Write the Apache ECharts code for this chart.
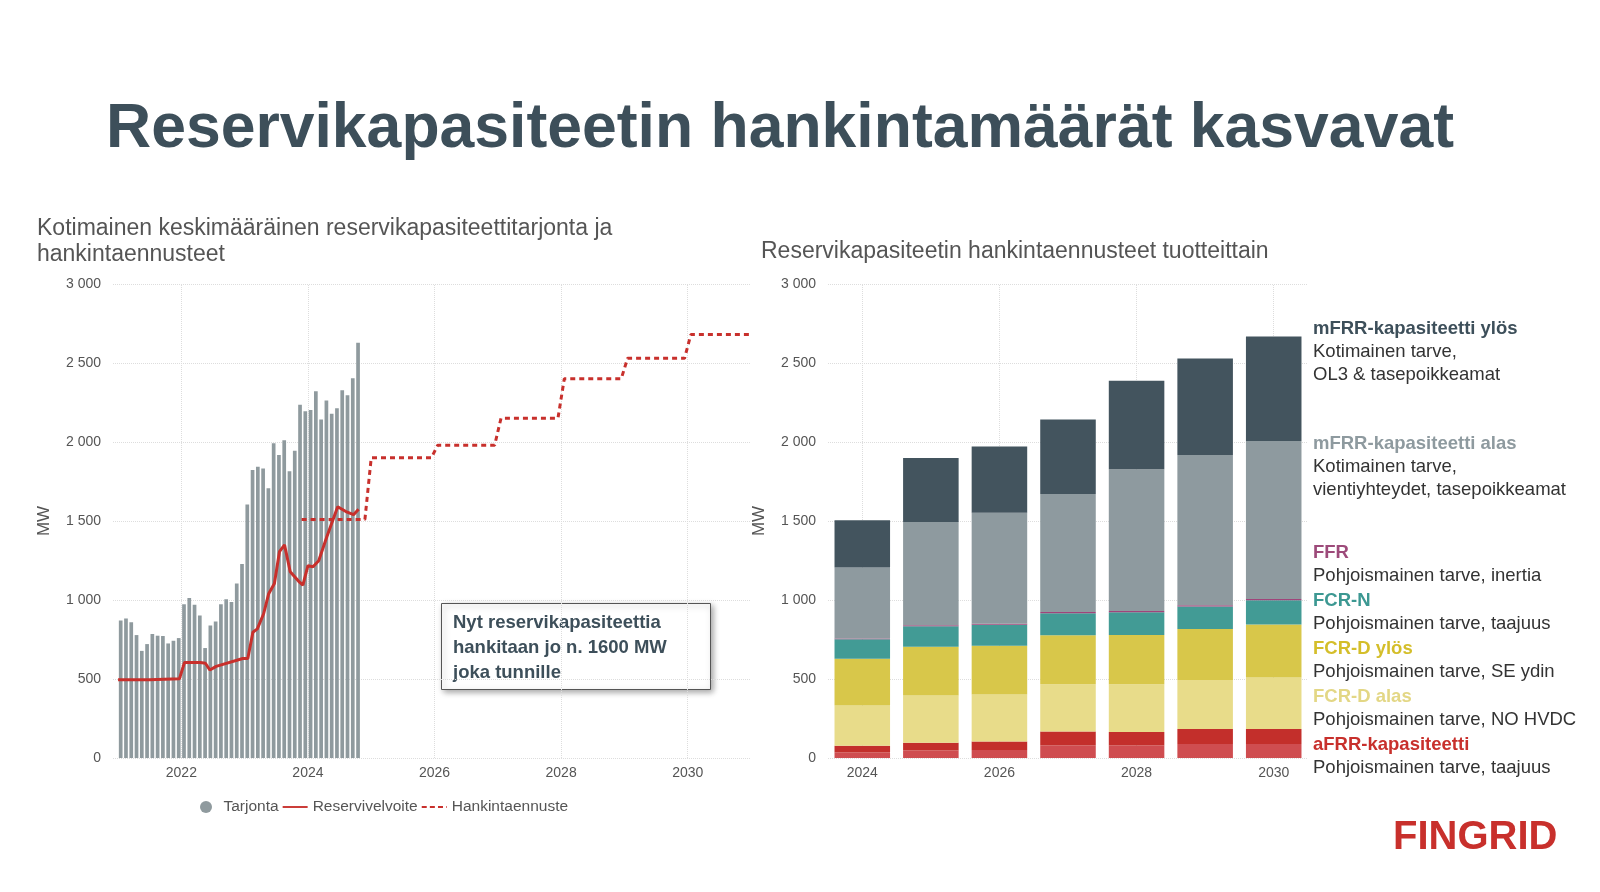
<!DOCTYPE html>
<html><head><meta charset="utf-8">
<script src="https://cdn.jsdelivr.net/npm/echarts@6/dist/echarts.min.js"></script>
<style>html,body{margin:0;padding:0;background:#fff}#c{width:1600px;height:892px}</style>
</head><body><div id="c"></div>
<script>
// Left chart: monthly supply (Tarjonta), Jan 2021 .. Oct 2024
const tarjonta = [870,883,859,778,678,721,785,774,772,725,742,759,
  973,1013,970,902,696,838,864,973,1005,988,1104,1228,
  1604,1822,1843,1832,1707,1992,1917,2011,1815,1945,2236,2194,
  2202,2321,2143,2262,2179,2213,2328,2296,2403,2628];
const reserviX = [2021.0,2021.5,2021.97,2022.05,2022.3,2022.38,2022.45,2022.55,2022.97,2023.05,2023.13,2023.2,2023.3,2023.38,2023.47,2023.55,2023.63,2023.72,2023.85,2023.92,2024.0,2024.08,2024.17,2024.3,2024.47,2024.6,2024.72,2024.8];
const reserviY = [495,495,502,605,605,600,557,580,630,630,796,817,913,1040,1104,1306,1349,1179,1120,1094,1217,1211,1249,1402,1590,1560,1540,1575];
const hankintaX = [2023.9,2024.9,2025.0,2025.95,2026.05,2026.95,2027.05,2027.95,2028.05,2028.95,2029.05,2029.95,2030.05,2031];
const hankintaY = [1510,1510,1900,1900,1980,1980,2150,2150,2400,2400,2530,2530,2680,2680];
const leftTicks = [2022,2024,2026,2028,2030];

// Right chart
const years = ['2024','2025','2026','2027','2028','2029','2030'];
const aFRRa = [35,47,51,79,79,89,89];
const aFRRb = [42,49,53,89,85,94,94];
const fcrdAlas = [255,300,298,298,302,311,326];
const fcrdYlos = [296,308,309,311,313,323,336];
const fcrN = [123,130,133,139,144,142,153];
const ffr = [6,6,6,8,8,8,9];
const mfrrAlas = [449,653,702,747,897,951,1000];
const mfrrYlos = [298,406,419,472,560,610,660];

const tarjontaData = tarjonta.map((v,i)=>[2021+i/12+1/24, v]);
const reserviData = reserviX.map((x,i)=>[x, reserviY[i]]);
const hankintaData = hankintaX.map((x,i)=>[x, hankintaY[i]]);

const fmt = v => v>=1000 ? Math.floor(v/1000)+' '+String(v%1000).padStart(3,'0') : String(v);
const axLab = {color:'#555', fontSize:14, fontFamily:'Liberation Sans'};
const dotted = {lineStyle:{color:'#ddd', type:'dotted', width:1}};
const vline = {silent:true, z:0, symbol:'none', label:{show:false}, lineStyle:{color:'#ddd', type:'dotted', width:1}};

const chart = echarts.init(document.getElementById('c'));
function stack(name, data, color){
  return {name, type:'bar', stack:'s', xAxisIndex:1, yAxisIndex:1, data, barCategoryGap:'19%', z:3,
    itemStyle:{color}, emphasis:{disabled:true}};
}
const s = [
  {name:'grid', type:'line', xAxisIndex:0, yAxisIndex:0, data:[], z:0,
   markLine:Object.assign({data: leftTicks.map(t=>({xAxis:t}))}, vline)},
  {name:'grid2', type:'line', xAxisIndex:1, yAxisIndex:1, data:[], z:0,
   markLine:Object.assign({data:[{xAxis:'2024'},{xAxis:'2026'},{xAxis:'2028'},{xAxis:'2030'}]}, vline)},
  {name:'Tarjonta', type:'bar', xAxisIndex:0, yAxisIndex:0, data:tarjontaData, barWidth:3.7, z:3,
   itemStyle:{color:'#8f9a9e'}},
  {name:'Reservivelvoite', type:'line', xAxisIndex:0, yAxisIndex:0, data:reserviData, showSymbol:false, z:4,
   lineStyle:{color:'#c8302c', width:3}, itemStyle:{color:'#c8302c'}},
  {name:'Hankintaennuste', type:'line', xAxisIndex:0, yAxisIndex:0, data:hankintaData, showSymbol:false, z:4,
   lineStyle:{color:'#c8302c', width:3, type:[5,4]}, itemStyle:{color:'#c8302c'}},
  stack('aFRR a', aFRRa, '#cf4d50'),
  stack('aFRR b', aFRRb, '#c32f2b'),
  stack('FCR-D alas', fcrdAlas, '#e8dc8a'),
  stack('FCR-D ylös', fcrdYlos, '#d8c74a'),
  stack('FCR-N', fcrN, '#429b95'),
  stack('FFR', ffr, '#a0447a'),
  stack('mFRR alas', mfrrAlas, '#8e9a9f'),
  stack('mFRR ylös', mfrrYlos, '#43545e'),
];

function t(x,y,text,opt){ return Object.assign({type:'text', left:x, top:y, silent:true,
  style:Object.assign({text, fill:'#333', fontSize:18.5, fontFamily:'Liberation Sans'}, opt||{})}); }
const rl = [
  ['mFRR-kapasiteetti ylös','#3d4f5a',319,['Kotimainen tarve,','OL3 & tasepoikkeamat']],
  ['mFRR-kapasiteetti alas','#8e9a9f',434,['Kotimainen tarve,','vientiyhteydet, tasepoikkeamat']],
  ['FFR','#9d4a7a',543,['Pohjoismainen tarve, inertia']],
  ['FCR-N','#3c9892',591,['Pohjoismainen tarve, taajuus']],
  ['FCR-D ylös','#d4be2a',639,['Pohjoismainen tarve, SE ydin']],
  ['FCR-D alas','#e3d785',687,['Pohjoismainen tarve, NO HVDC']],
  ['aFRR-kapasiteetti','#c8302c',735,['Pohjoismainen tarve, taajuus']],
];
const graphics = [
  t(106,98,'Reservikapasiteetin hankintamäärät kasvavat',{fill:'#3d4f5a', fontSize:62.5, fontWeight:'bold'}),
  t(37,216,'Kotimainen keskimääräinen reservikapasiteettitarjonta ja\nhankintaennusteet',{fill:'#555', fontSize:23, lineHeight:26}),
  t(761,240,'Reservikapasiteetin hankintaennusteet tuotteittain',{fill:'#555', fontSize:23}),
  {type:'rect', left:441, top:603, shape:{width:269, height:86}, silent:true,
   style:{fill:'#fff', stroke:'#555', lineWidth:1, shadowBlur:6, shadowColor:'rgba(0,0,0,0.35)', shadowOffsetX:2, shadowOffsetY:2}},
  t(453,610,'Nyt reservikapasiteettia\nhankitaan jo n. 1600 MW\njoka tunnille',{fill:'#3d4f5a', fontSize:18.5, fontWeight:'bold', lineHeight:25}),
  t(1393,818,'FINGRID',{fill:'#c8302c', fontSize:40, fontWeight:'bold'}),
];
rl.forEach(r=>{
  graphics.push(t(1313,r[2],r[0],{fill:r[1], fontWeight:'bold'}));
  r[3].forEach((line,i)=>graphics.push(t(1313,r[2]+23*(i+1),line)));
});

chart.setOption({
  animation:false,
  textStyle:{fontFamily:'Liberation Sans'},
  grid:[{left:113, right:849, top:284, bottom:134},
        {left:828, right:292, top:284, bottom:134}],
  legend:{data:[{name:'Tarjonta', icon:'circle', itemStyle:{color:'#8f9a9e'}},
                {name:'Reservivelvoite', icon:'path://M0,4 L40,4 L40,7 L0,7 Z', itemStyle:{color:'#c8302c'}},
                {name:'Hankintaennuste', icon:'path://M0,4 L8,4 L8,7 L0,7 Z M13,4 L21,4 L21,7 L13,7 Z M26,4 L34,4 L34,7 L26,7 Z M39,4 L40,4 L40,7 L39,7 Z', itemStyle:{color:'#c8302c'}}],
    left:195, top:794, itemHeight:12, itemGap:4,
    textStyle:{color:'#555', fontSize:15.5, fontFamily:'Liberation Sans'}},
  xAxis:[
    {type:'value', gridIndex:0, min:2020.92, max:2031, splitLine:{show:false},
     axisLine:{show:false}, axisTick:{show:false},
     axisLabel:Object.assign({customValues:leftTicks, margin:8, formatter:v=>String(v)}, axLab)},
    {type:'category', gridIndex:1, data:years, axisLine:{show:false}, axisTick:{show:false},
     axisLabel:Object.assign({interval:1, margin:8}, axLab)}
  ],
  yAxis:[
    {type:'value', gridIndex:0, min:0, max:3000, interval:500, name:'MW', nameLocation:'middle', nameGap:60,
     nameTextStyle:{color:'#555', fontSize:17}, axisLabel:Object.assign({formatter:fmt, margin:12}, axLab),
     axisLine:{show:false}, axisTick:{show:false}, splitLine:dotted},
    {type:'value', gridIndex:1, min:0, max:3000, interval:500, name:'MW', nameLocation:'middle', nameGap:60,
     nameTextStyle:{color:'#555', fontSize:17}, axisLabel:Object.assign({formatter:fmt, margin:12}, axLab),
     axisLine:{show:false}, axisTick:{show:false}, splitLine:dotted}
  ],
  series:s,
  graphic:graphics
});
</script></body></html>
